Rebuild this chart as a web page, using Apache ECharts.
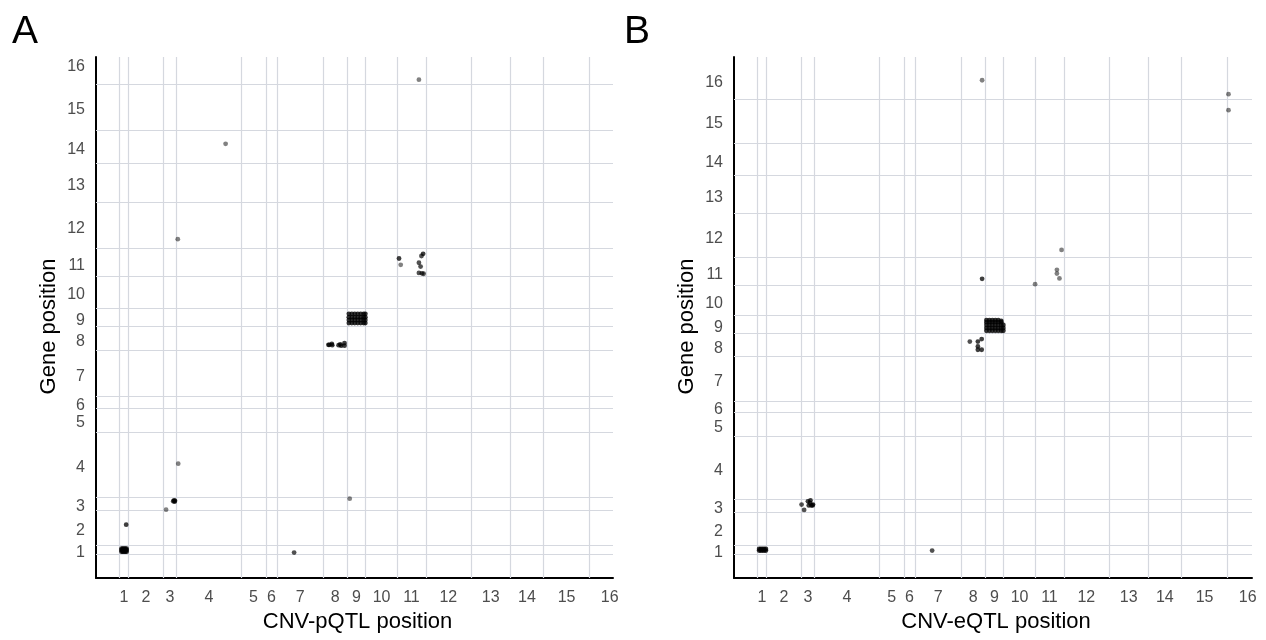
<!DOCTYPE html>
<html>
<head>
<meta charset="utf-8">
<script src="https://cdn.jsdelivr.net/npm/echarts@6/dist/echarts.min.js"></script>
<style>
  html, body { margin: 0; padding: 0; background: #ffffff; }
  #chart { width: 1266px; height: 640px; }
</style>
</head>
<body>
<div id="chart"></div>
<script>
// Yeast chromosomes (S. cerevisiae), lengths in Mb
const chromLabels = ['1','2','3','4','5','6','7','8','9','10','11','12','13','14','15','16'];
const chromLengthsMb = [0.2302, 0.8132, 0.3166, 1.5319, 0.5769, 0.2702, 1.0909, 0.5626,
                        0.4399, 0.7458, 0.6668, 1.0782, 0.9244, 0.7843, 1.0913, 0.9481];

// QTL hits: [QTL chromosome, QTL position (Mb), gene chromosome, gene position (Mb), stacked hits]
const pqtlHits = [
  // chromosome 1 local block
  [1,0.06,1,0.07,6],[1,0.09,1,0.07,6],[1,0.12,1,0.07,6],[1,0.15,1,0.07,6],[1,0.18,1,0.07,6],
  [1,0.06,1,0.11,6],[1,0.09,1,0.11,6],[1,0.12,1,0.11,6],[1,0.15,1,0.11,6],[1,0.18,1,0.11,6],
  [1,0.06,1,0.14,6],[1,0.09,1,0.14,6],[1,0.12,1,0.14,6],[1,0.15,1,0.14,6],[1,0.18,1,0.14,6],
  [1,0.17,2,0.48,3],
  [3,0.07,3,0.02,1],
  [3,0.24,3,0.22,3],[3,0.26,3,0.24,3],[3,0.28,3,0.23,3],[3,0.27,3,0.21,3],
  [4,0.04,4,0.79,1],
  [7,0.40,1,0.05,2],
  [4,0.03,12,0.21,1],
  [4,1.16,14,0.46,1],
  [11,0.51,16,0.10,1],
  [9,0.06,3,0.28,1],
  // chromosome 8 hits
  [8,0.12,8,0.13,3],[8,0.14,8,0.13,3],[8,0.20,8,0.15,3],[8,0.21,8,0.12,3],
  [8,0.36,8,0.12,3],[8,0.40,8,0.14,3],[8,0.42,8,0.11,3],[8,0.50,8,0.17,3],[8,0.50,8,0.11,3],
  // chromosome 9 hotspot
  [9,0.04,9,0.08,6],[9,0.11,9,0.08,6],[9,0.18,9,0.08,6],[9,0.25,9,0.08,6],[9,0.32,9,0.08,6],[9,0.39,9,0.08,6],[9,0.43,9,0.08,6],
  [9,0.04,9,0.15,6],[9,0.11,9,0.15,6],[9,0.18,9,0.15,6],[9,0.25,9,0.15,6],[9,0.32,9,0.15,6],[9,0.39,9,0.15,6],[9,0.43,9,0.15,6],
  [9,0.04,9,0.22,6],[9,0.11,9,0.22,6],[9,0.18,9,0.22,6],[9,0.25,9,0.22,6],[9,0.32,9,0.22,6],[9,0.39,9,0.22,6],[9,0.43,9,0.22,6],
  [9,0.04,9,0.30,6],[9,0.11,9,0.30,6],[9,0.18,9,0.30,6],[9,0.25,9,0.30,6],[9,0.32,9,0.30,6],[9,0.39,9,0.30,6],[9,0.43,9,0.30,6],
  // chromosome 11 hits
  [11,0.04,11,0.42,3],[11,0.08,11,0.27,1],
  [11,0.61,11,0.53,3],[11,0.57,11,0.48,2],[11,0.51,11,0.32,2],[11,0.55,11,0.23,2],
  [11,0.51,11,0.08,2],[11,0.62,11,0.06,2],[11,0.58,11,0.07,2]
];

const eqtlHits = [
  // chromosome 1 local block
  [1,0.05,1,0.10,6],[1,0.09,1,0.10,6],[1,0.13,1,0.10,6],[1,0.17,1,0.10,6],[1,0.21,1,0.10,6],
  [1,0.05,1,0.14,6],[1,0.09,1,0.14,6],[1,0.13,1,0.14,6],[1,0.17,1,0.14,6],[1,0.21,1,0.14,6],
  // chromosome 3 hits
  [3,0.01,3,0.18,2],[3,0.07,3,0.05,2],[3,0.16,3,0.26,3],[3,0.22,3,0.28,3],[3,0.28,3,0.18,3],
  [3,0.18,3,0.16,3],[3,0.24,3,0.16,3],[3,0.21,3,0.22,3],[3,0.27,3,0.16,3],
  [7,0.40,1,0.10,2],
  [8,0.49,16,0.45,1],
  [8,0.49,11,0.15,3],
  [10,0.74,11,0.02,1],
  [11,0.51,11,0.37,1],[11,0.51,11,0.28,1],[11,0.57,11,0.16,1],[11,0.62,12,0.19,1],
  [16,0.02,16,0.11,1],[16,0.02,15,0.81,1],
  // chromosome 8 hits
  [8,0.20,8,0.37,2],[8,0.39,8,0.37,3],[8,0.48,8,0.43,3],[8,0.39,8,0.25,3],[8,0.39,8,0.17,3],[8,0.48,8,0.17,3],
  // chromosome 9 hotspot
  [9,0.03,9,0.07,6],[9,0.10,9,0.07,6],[9,0.17,9,0.07,6],[9,0.24,9,0.07,6],[9,0.31,9,0.07,6],[9,0.38,9,0.07,6],[9,0.43,9,0.07,6],
  [9,0.03,9,0.14,6],[9,0.10,9,0.14,6],[9,0.17,9,0.14,6],[9,0.24,9,0.14,6],[9,0.31,9,0.14,6],[9,0.38,9,0.14,6],[9,0.43,9,0.14,6],
  [9,0.03,9,0.21,6],[9,0.10,9,0.21,6],[9,0.17,9,0.21,6],[9,0.24,9,0.21,6],[9,0.31,9,0.21,6],[9,0.38,9,0.21,6],[9,0.43,9,0.21,6],
  [9,0.03,9,0.28,6],[9,0.10,9,0.28,6],[9,0.17,9,0.28,6],[9,0.24,9,0.28,6],[9,0.31,9,0.28,6],[9,0.38,9,0.28,6],
  [9,0.03,9,0.33,6],[9,0.10,9,0.33,6],[9,0.17,9,0.33,6],[9,0.24,9,0.33,6],[9,0.31,9,0.33,6],[9,0.38,9,0.31,6]
];

// cumulative genome coordinates
const chromStarts = [];
let acc = 0;
chromLengthsMb.forEach(function (len) { chromStarts.push(acc); acc += len; });
const chromMids = chromStarts.map(function (s, i) { return s + chromLengthsMb[i] / 2; });

// single-point opacity; stacked hits darken towards black
const POINT_ALPHA = 0.62;

function toGenome(rows) {
  return rows.map(function (r) {
    const n = r[4];
    const a = 1 - Math.pow(1 - POINT_ALPHA, n);
    return {
      value: [chromStarts[r[0] - 1] + r[1], chromStarts[r[2] - 1] + r[3]],
      itemStyle: { color: 'rgba(0,0,0,' + a.toFixed(3) + ')' }
    };
  });
}

function labelFor(v) {
  let best = 0, bestD = Infinity;
  chromMids.forEach(function (m, i) {
    const d = Math.abs(m - v);
    if (d < bestD) { bestD = d; best = i; }
  });
  return chromLabels[best];
}

const FONT = '"Liberation Sans", Arial, Helvetica, sans-serif';
const GRID_COLOR = '#d5d8df';

function makeAxis(kind, gridIndex, min, max, name) {
  const isX = kind === 'x';
  const label = {
    customValues: chromMids,
    formatter: labelFor,
    fontFamily: FONT,
    fontSize: 16,
    color: '#4d4d4d',
    margin: isX ? 12 : 11
  };
  if (!isX) {
    // labels sit a little below the chromosome centre
    label.verticalAlign = 'top';
    label.lineHeight = 6;
  }
  return {
    type: 'value',
    gridIndex: gridIndex,
    min: min,
    max: max,
    name: name,
    nameLocation: 'middle',
    nameGap: isX ? 32 : 36,
    nameTextStyle: {
      fontFamily: FONT, fontSize: 22, color: '#000000',
      padding: isX ? [0, 0, 0, 6] : [0, 18, 0, 0]
    },
    axisLine: { show: true, onZero: false, lineStyle: { color: '#000000', width: 2 } },
    axisTick: { show: false },
    splitLine: { show: false },
    axisLabel: label
  };
}

function gridLines(xi, yi) {
  const lines = [];
  chromStarts.forEach(function (s) { lines.push({ xAxis: s }); lines.push({ yAxis: s }); });
  return {
    type: 'scatter',
    xAxisIndex: xi,
    yAxisIndex: yi,
    data: [],
    z: 1,
    silent: true,
    markLine: {
      z: 1,
      silent: true,
      symbol: ['none', 'none'],
      label: { show: false },
      animation: false,
      lineStyle: { color: GRID_COLOR, width: 1.2, type: 'solid' },
      data: lines
    }
  };
}

function hits(xi, yi, rows) {
  return {
    type: 'scatter',
    xAxisIndex: xi,
    yAxisIndex: yi,
    z: 3,
    symbol: 'circle',
    symbolSize: 4.8,
    data: toGenome(rows)
  };
}

const chart = echarts.init(document.getElementById('chart'), null, { renderer: 'canvas' });
chart.setOption({
  animation: false,
  backgroundColor: '#ffffff',
  title: [
    { text: 'A', left: 7, top: 8, textStyle: { fontFamily: FONT, fontSize: 39, fontWeight: 'normal', color: '#000000' } },
    { text: 'B', left: 619, top: 8, textStyle: { fontFamily: FONT, fontSize: 39, fontWeight: 'normal', color: '#000000' } }
  ],
  grid: [
    { left: 96, top: 57, width: 517, height: 521 },
    { left: 734, top: 57, width: 518, height: 521 }
  ],
  xAxis: [
    makeAxis('x', 0, -0.543, 11.675, 'CNV-pQTL position'),
    makeAxis('x', 1, -0.544, 11.699, 'CNV-eQTL position')
  ],
  yAxis: [
    makeAxis('y', 0, -0.551, 11.760, 'Gene position'),
    makeAxis('y', 1, -0.568, 12.140, 'Gene position')
  ],
  series: [
    gridLines(0, 0),
    gridLines(1, 1),
    hits(0, 0, pqtlHits),
    hits(1, 1, eqtlHits)
  ]
});
</script>
</body>
</html>
